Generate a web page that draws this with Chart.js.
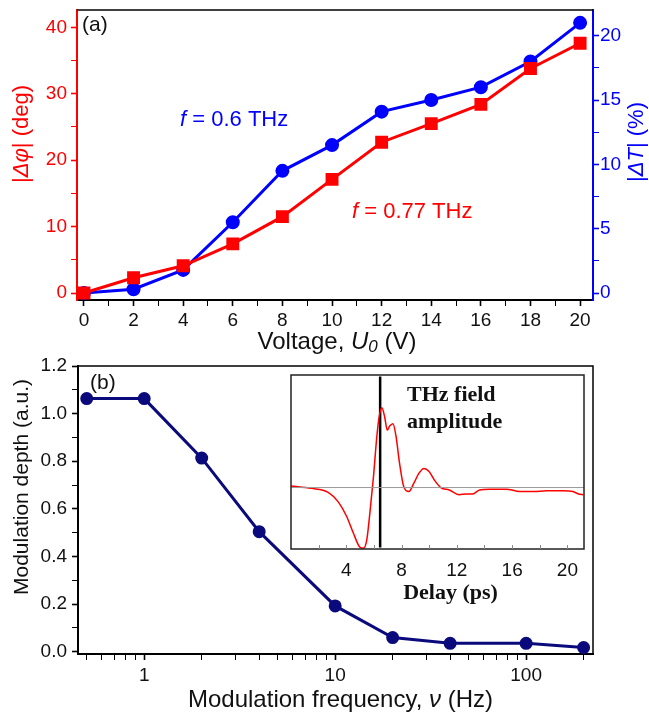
<!DOCTYPE html>
<html>
<head>
<meta charset="utf-8">
<script src="https://cdn.jsdelivr.net/npm/chart.js@4"></script>
<style>
  body { margin: 0; background: #fff; }
  #wrap { position: relative; width: 649px; height: 714px; }
  canvas { position: absolute; }
</style>
</head>
<body>
<div id="wrap">
  <canvas id="panelA" width="649" height="355" style="left:0;top:0"></canvas>
  <canvas id="panelB" width="649" height="359" style="left:0;top:355px"></canvas>
  <canvas id="inset" width="306" height="240" style="left:285px;top:370px"></canvas>
</div>
<script>
// (a) phase / transmission change vs voltage
var voltage = [0, 2, 4, 6, 8, 10, 12, 14, 16, 18, 20];
var phaseDeg = [0, 2.3, 4.1, 7.4, 11.5, 17.1, 22.7, 25.5, 28.4, 33.8, 37.6];
var transPct = [0, 0.3, 1.8, 5.5, 9.5, 11.5, 14.1, 15.0, 16.0, 18.0, 21.0];

// (b) modulation depth vs modulation frequency
var modFreq = [0.5, 1, 2, 4, 10, 20, 40, 100, 200];
var modDepth = [1.063, 1.063, 0.813, 0.504, 0.192, 0.059, 0.035, 0.035, 0.017];

// inset: THz field waveform
var delayPs = [0, 1.47, 2.69, 3.42, 4.02, 4.51, 5.0, 5.24, 5.48, 5.73, 5.97, 6.21, 6.38, 6.58, 6.77, 6.97, 7.14, 7.38, 7.6, 7.85, 8.16, 8.53, 8.89, 9.26, 9.62, 9.99, 10.35, 10.84, 11.45, 12.18, 12.67, 13.15, 13.64, 14.36, 15.58, 16.55, 17.53, 18.5, 19.7, 20.4, 20.8, 21.15];
var fieldAmp = [0.02, -0.01, -0.06, -0.18, -0.36, -0.57, -0.75, -0.76, -0.66, -0.28, 0.14, 0.64, 0.89, 1.0, 0.89, 0.72, 0.77, 0.80, 0.64, 0.31, 0.01, -0.05, 0.055, 0.18, 0.24, 0.20, 0.10, 0.0, -0.03, -0.09, -0.08, -0.08, -0.03, -0.02, -0.02, -0.05, -0.05, -0.04, -0.04, -0.05, -0.08, -0.09];
var markerDelay = 6.45;
var markerSpan = [1.39, -0.75];

// ticks (minor + major) and the labelled ones
var voltTicks = [0,1,2,3,4,5,6,7,8,9,10,11,12,13,14,15,16,17,18,19,20];
var voltLabels = [0,2,4,6,8,10,12,14,16,18,20];
var phaseTicks = [0,5,10,15,20,25,30,35,40];
var phaseLabels = [0,10,20,30,40];
var transTicks = [0,2.5,5,7.5,10,12.5,15,17.5,20];
var transLabels = [0,5,10,15,20];
var freqTicks = [0.5,0.6,0.7,0.8,0.9,1,2,3,4,5,6,7,8,9,10,20,30,40,50,60,70,80,90,100,200];
var freqLabels = [1,10,100];
var depthTicks = [0,0.1,0.2,0.3,0.4,0.5,0.6,0.7,0.8,0.9,1.0,1.1,1.2];
var depthLabels = [0,0.2,0.4,0.6,0.8,1.0,1.2];
var delayTicks = [2,4,6,8,10,12,14,16,18,20];
var delayLabels = [4,8,12,16,20];

var SANS = 'Liberation Sans';
var SERIF = 'Liberation Serif';
var RED = '#ff0000', BLUE = '#0000ff', NAVY = '#0a0a7d';

function has(list, v) {
  return list.some(function (x) { return Math.abs(x - v) < 1e-9; });
}

// text with italic / subscript pieces
function drawRich(ctx, runs, x, y, o) {
  ctx.save();
  ctx.translate(x, y);
  if (o.rot) ctx.rotate(o.rot);
  var fam = o.family || SANS;
  function fontOf(r) {
    return (r.it ? 'italic ' : '') + (o.bold ? 'bold ' : '') + (r.sub ? Math.round(o.size * 0.72) : o.size) + 'px "' + fam + '"';
  }
  var w = 0;
  runs.forEach(function (r) { ctx.font = fontOf(r); w += ctx.measureText(r.t).width; });
  var cx = o.align === 'left' ? 0 : -w / 2;
  ctx.fillStyle = o.color || '#111';
  ctx.textBaseline = 'middle';
  runs.forEach(function (r) {
    ctx.font = fontOf(r);
    ctx.fillText(r.t, cx, r.sub ? o.size * 0.22 : 0);
    cx += ctx.measureText(r.t).width;
  });
  ctx.restore();
}

function xy(xs, ys) {
  return xs.map(function (v, i) { return { x: v, y: ys[i] }; });
}

function tickSet(list) {
  return function (s) { s.ticks = list.map(function (v) { return { value: v }; }); };
}

// fixed axis size, no extra padding for edge labels
function fixSize(prop, px) {
  return function (s) {
    s[prop] = px;
    s.paddingTop = 0; s.paddingBottom = 0; s.paddingLeft = 0; s.paddingRight = 0;
  };
}

function axisGrid(color, majors) {
  return {
    drawOnChartArea: false,
    color: color,
    tickColor: color,
    tickLength: 6,
    tickWidth: function (c) { return c.tick && has(majors, c.tick.value) ? 1.6 : 1; }
  };
}

function tickFont() { return { family: SANS, size: 19 }; }

Chart.defaults.animation = false;

// ---------- panel (a) ----------
var rel1 = new Chart(document.getElementById('panelA'), {
  type: 'line',
  data: {
    datasets: [{
      label: 'phase',
      data: xy(voltage, phaseDeg),
      yAxisID: 'yL',
      borderColor: RED,
      backgroundColor: RED,
      borderWidth: 3,
      pointStyle: 'rect',
      pointRadius: 7,
      pointHoverRadius: 7,
      clip: false
    }, {
      label: 'transmission',
      data: xy(voltage, transPct),
      yAxisID: 'yR',
      borderColor: BLUE,
      backgroundColor: BLUE,
      borderWidth: 3,
      pointRadius: 5.5,
      pointHoverRadius: 5.5,
      clip: false
    }]
  },
  options: {
    responsive: false,
    layout: { padding: { top: 10, left: 0, right: 0, bottom: 0 } },
    plugins: { legend: { display: false }, tooltip: { enabled: false } },
    scales: {
      x: {
        type: 'linear', min: -0.28, max: 20.52,
        afterBuildTicks: tickSet(voltTicks),
        afterFit: fixSize('height', 55),
        grid: axisGrid('#000', voltLabels),
        border: { color: '#000', width: 2 },
        ticks: {
          autoSkip: false, maxRotation: 0, padding: 3, color: '#111', font: tickFont(),
          callback: function (v) { return has(voltLabels, v) ? String(v) : ''; }
        }
      },
      yL: {
        type: 'linear', position: 'left', min: -1.05, max: 42.6,
        afterBuildTicks: tickSet(phaseTicks),
        afterFit: fixSize('width', 77),
        grid: axisGrid(RED, phaseLabels),
        border: { color: RED, width: 2 },
        ticks: {
          autoSkip: false, padding: 4, color: RED, font: tickFont(),
          callback: function (v) { return has(phaseLabels, v) ? String(v) : ''; }
        }
      },
      yR: {
        type: 'linear', position: 'right', min: -0.54, max: 22.0,
        afterBuildTicks: tickSet(transTicks),
        afterFit: fixSize('width', 56),
        grid: axisGrid(BLUE, transLabels),
        border: { color: BLUE, width: 2 },
        ticks: {
          autoSkip: false, padding: 1, color: BLUE, font: tickFont(),
          callback: function (v) { return has(transLabels, v) ? String(v) : ''; }
        }
      }
    }
  },
  plugins: [{
    id: 'textA',
    afterDraw: function (chart) {
      var ctx = chart.ctx, a = chart.chartArea;
      ctx.save();
      ctx.strokeStyle = '#000';
      ctx.lineWidth = 1.5;
      ctx.beginPath();
      ctx.moveTo(a.left, a.top);
      ctx.lineTo(a.right, a.top);
      ctx.stroke();
      ctx.restore();
      drawRich(ctx, [{ t: '(a)' }], a.left + 5, a.top + 15, { size: 21, align: 'left', color: '#111' });
      drawRich(ctx, [{ t: 'f', it: true }, { t: ' = 0.6 THz' }], a.left + 103, a.top + 110, { size: 22, align: 'left', color: BLUE });
      drawRich(ctx, [{ t: 'f', it: true }, { t: ' = 0.77 THz' }], a.left + 275, a.top + 202, { size: 22, align: 'left', color: RED });
      drawRich(ctx, [{ t: 'Voltage, ' }, { t: 'U', it: true }, { t: '0', it: true, sub: true }, { t: ' (V)' }],
        (a.left + a.right) / 2 + 2, a.bottom + 42, { size: 24, color: '#111' });
      drawRich(ctx, [{ t: '|' }, { t: 'Δφ', it: true }, { t: '| (deg)' }], 22, 134, { size: 22, color: RED, rot: -Math.PI / 2 });
      drawRich(ctx, [{ t: '|' }, { t: 'ΔT', it: true }, { t: '| (%)' }], 637, 142, { size: 22, color: BLUE, rot: -Math.PI / 2 });
    }
  }]
});

// ---------- panel (b) ----------
var rel2 = new Chart(document.getElementById('panelB'), {
  type: 'line',
  data: {
    datasets: [{
      label: 'depth',
      data: xy(modFreq, modDepth),
      borderColor: NAVY,
      backgroundColor: NAVY,
      borderWidth: 3,
      pointRadius: 5,
      pointHoverRadius: 5,
      clip: false
    }]
  },
  options: {
    responsive: false,
    layout: { padding: { top: 11, left: 0, right: 56, bottom: 0 } },
    plugins: { legend: { display: false }, tooltip: { enabled: false } },
    scales: {
      x: {
        type: 'logarithmic', min: 0.45, max: 224,
        afterBuildTicks: tickSet(freqTicks),
        afterFit: fixSize('height', 60),
        grid: axisGrid('#000', freqLabels),
        border: { color: '#000', width: 2 },
        ticks: {
          autoSkip: false, maxRotation: 0, padding: 4, color: '#111', font: tickFont(),
          callback: function (v) { return has(freqLabels, v) ? String(v) : ''; }
        }
      },
      y: {
        type: 'linear', min: -0.01, max: 1.2,
        afterBuildTicks: tickSet(depthTicks),
        afterFit: fixSize('width', 78),
        grid: axisGrid('#000', depthLabels),
        border: { color: '#000', width: 2 },
        ticks: {
          autoSkip: false, padding: 5, color: '#111', font: tickFont(),
          callback: function (v) { return has(depthLabels, v) ? v.toFixed(1) : ''; }
        }
      }
    }
  },
  plugins: [{
    id: 'textB',
    afterDraw: function (chart) {
      var ctx = chart.ctx, a = chart.chartArea;
      ctx.save();
      ctx.strokeStyle = '#000';
      ctx.lineWidth = 1.5;
      ctx.beginPath();
      ctx.moveTo(a.left, a.top);
      ctx.lineTo(a.right, a.top);
      ctx.lineTo(a.right, a.bottom);
      ctx.stroke();
      ctx.restore();
      drawRich(ctx, [{ t: '(b)' }], a.left + 12, a.top + 17, { size: 21, align: 'left', color: '#111' });
      drawRich(ctx, [{ t: 'Modulation frequency, ' }, { t: 'ν', it: true }, { t: ' (Hz)' }],
        (a.left + a.right) / 2 + 5, a.bottom + 46, { size: 24, color: '#111' });
      drawRich(ctx, [{ t: 'Modulation depth (a.u.)' }], 22, 132, { size: 21, color: '#111', rot: -Math.PI / 2 });
    }
  }]
});

// ---------- inset ----------
var rel3 = new Chart(document.getElementById('inset'), {
  type: 'line',
  data: {
    datasets: [{
      label: 'zero',
      data: [{ x: 0, y: 0 }, { x: 21.2, y: 0 }],
      borderColor: '#9a9a9a',
      borderWidth: 1,
      pointRadius: 0
    }, {
      label: 'field',
      data: xy(delayPs, fieldAmp),
      borderColor: RED,
      borderWidth: 1.5,
      pointRadius: 0,
      cubicInterpolationMode: 'monotone'
    }, {
      label: 'marker',
      data: [{ x: markerDelay, y: markerSpan[0] }, { x: markerDelay, y: markerSpan[1] }],
      borderColor: '#000',
      borderWidth: 2.5,
      pointRadius: 0
    }]
  },
  options: {
    responsive: false,
    layout: { padding: { top: 5, left: 6, right: 7, bottom: 0 } },
    plugins: { legend: { display: false }, tooltip: { enabled: false } },
    scales: {
      x: {
        type: 'linear', min: 0, max: 21.2,
        afterBuildTicks: tickSet(delayTicks),
        afterFit: fixSize('height', 61),
        grid: { display: false, drawTicks: false },
        border: { display: false },
        ticks: {
          autoSkip: false, maxRotation: 0, padding: 10, color: '#111', font: { family: SANS, size: 19 },
          callback: function (v) { return has(delayLabels, v) ? String(v) : ''; }
        }
      },
      y: { type: 'linear', min: -0.77, max: 1.41, display: false }
    }
  },
  plugins: [{
    id: 'insetFrame',
    beforeDatasetsDraw: function (chart) {
      var ctx = chart.ctx, a = chart.chartArea;
      ctx.save();
      ctx.fillStyle = '#fff';
      ctx.fillRect(a.left, a.top, a.right - a.left, a.bottom - a.top);
      ctx.restore();
    },
    afterDraw: function (chart) {
      var ctx = chart.ctx, a = chart.chartArea, xs = chart.scales.x;
      ctx.save();
      ctx.strokeStyle = '#222';
      ctx.lineWidth = 1.5;
      ctx.strokeRect(a.left, a.top, a.right - a.left, a.bottom - a.top);
      ctx.lineWidth = 1;
      ctx.strokeStyle = '#888';
      delayTicks.forEach(function (v) {
        var px = Math.round(xs.getPixelForValue(v)) + 0.5;
        ctx.beginPath();
        ctx.moveTo(px, a.bottom);
        ctx.lineTo(px, a.bottom - 4);
        ctx.stroke();
      });
      ctx.restore();
      drawRich(ctx, [{ t: 'THz field' }], 122, 25, { size: 22, bold: true, family: SERIF, align: 'left', color: '#111' });
      drawRich(ctx, [{ t: 'amplitude' }], 122, 52, { size: 22, bold: true, family: SERIF, align: 'left', color: '#111' });
      drawRich(ctx, [{ t: 'Delay (ps)' }], (a.left + a.right) / 2 + 13, 223, { size: 22, bold: true, family: SERIF, color: '#111' });
    }
  }]
});
</script>
</body>
</html>
